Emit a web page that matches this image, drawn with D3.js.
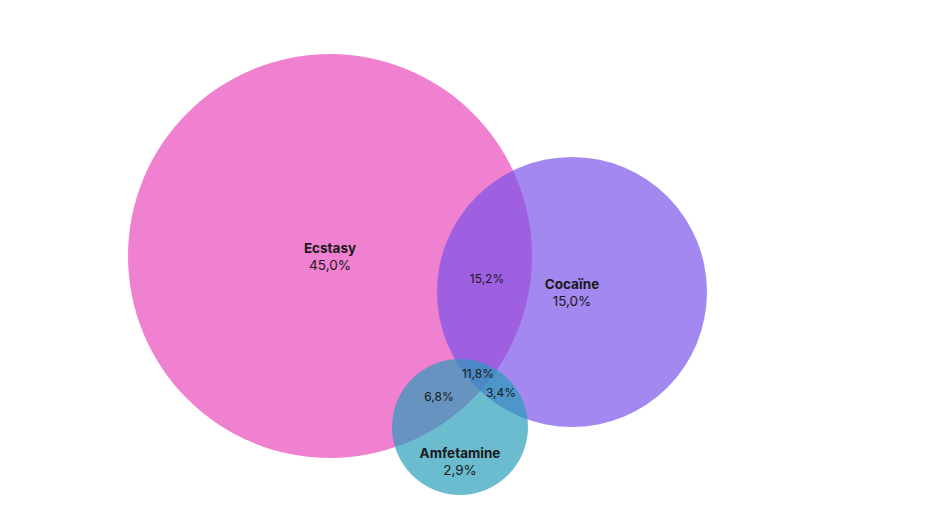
<!DOCTYPE html>
<html><head><meta charset="utf-8">
<script src="https://cdn.jsdelivr.net/npm/d3@7"></script>
<style>body{margin:0;background:#fff}svg{display:block}</style>
</head><body>
<script>
// Sets (drawn in this order)
const setNames = ["Ecstasy", "Cocaïne", "Amfetamine"];
const setValues = ["45,0%", "15,0%", "2,9%"];
// Venn layout in layout units (1 unit = 100 px)
const setX = [3.30, 5.72, 4.60];
const setY = [2.56, 2.92, 4.27];
const setR = [2.02, 1.35, 0.68];
const setLabelX = [3.30, 5.72, 4.60];
const setLabelY = [2.56, 2.92, 4.61];
const setColors = ["#e944ba", "#7850e9", "#259cb8"];
// Intersections
const interLabels = ["15,2%", "11,8%", "6,8%", "3,4%"];
const interX = [4.87, 4.78, 4.39, 5.01];
const interY = [2.79, 3.74, 3.97, 3.93];

const W = 945, H = 521;
const x = d3.scaleLinear().domain([0, 9.45]).range([0, W]);
const y = d3.scaleLinear().domain([0, 5.21]).range([0, H]);
const r = d3.scaleLinear().domain([0, 1]).range([0, 100]);

const svg = d3.select("body").append("svg").attr("width", W).attr("height", H);

const sets = setNames.map((n, i) => ({name: n, value: setValues[i], x: setX[i], y: setY[i], r: setR[i], lx: setLabelX[i], ly: setLabelY[i], color: setColors[i]}));

svg.append("g").selectAll("circle").data(sets).join("circle")
  .attr("cx", d => x(d.x)).attr("cy", d => y(d.y)).attr("r", d => r(d.r))
  .attr("fill", d => d.color).attr("fill-opacity", 0.68);

const lg = svg.append("g").attr("font-family", "Inter, 'Noto Sans', sans-serif").attr("fill", "#1a1a1a").attr("text-anchor", "middle");
const sl = lg.selectAll("g.set").data(sets).join("g").attr("class", "set")
  .attr("transform", d => `translate(${x(d.lx)},${y(d.ly)})`);
sl.append("text").attr("y", -3).attr("font-size", 13.5).attr("font-weight", 700).text(d => d.name);
sl.append("text").attr("y", 14).attr("font-size", 13.5).text(d => d.value);

const inter = interLabels.map((l, i) => ({label: l, x: interX[i], y: interY[i]}));
lg.selectAll("text.inter").data(inter).join("text").attr("class", "inter")
  .attr("x", d => x(d.x)).attr("y", d => y(d.y)).attr("dy", "0.35em")
  .attr("font-size", 12).text(d => d.label);
</script>
</body></html>
